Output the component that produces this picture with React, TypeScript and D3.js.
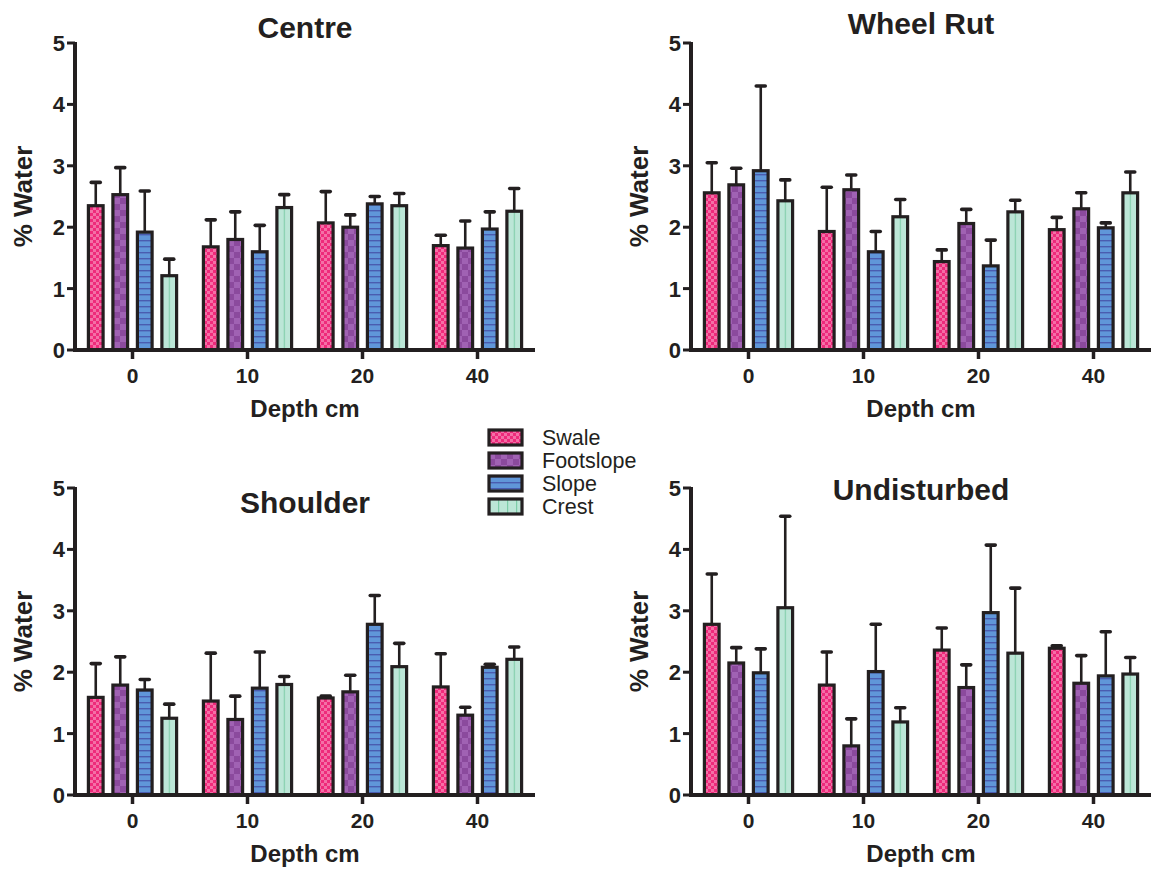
import React from "react";
import * as d3 from "d3";

// depth groups and site positions
const depths = ["0", "10", "20", "40"];
const sites = ["Swale", "Footslope", "Slope", "Crest"];
const yTicks = [0, 1, 2, 3, 4, 5];

// mean % water, one row per site, one column per depth
const centreMean = [
  [2.35, 1.68, 2.07, 1.7],
  [2.53, 1.8, 2.0, 1.66],
  [1.92, 1.6, 2.38, 1.97],
  [1.21, 2.32, 2.35, 2.26],
];
const centreErr = [
  [0.38, 0.44, 0.51, 0.17],
  [0.44, 0.45, 0.2, 0.44],
  [0.67, 0.43, 0.12, 0.28],
  [0.27, 0.21, 0.2, 0.37],
];

const rutMean = [
  [2.56, 1.93, 1.44, 1.96],
  [2.69, 2.61, 2.06, 2.3],
  [2.92, 1.6, 1.37, 1.99],
  [2.43, 2.17, 2.25, 2.56],
];
const rutErr = [
  [0.49, 0.72, 0.19, 0.2],
  [0.27, 0.24, 0.23, 0.26],
  [1.38, 0.33, 0.42, 0.08],
  [0.34, 0.28, 0.19, 0.34],
];

const shoulderMean = [
  [1.59, 1.53, 1.58, 1.76],
  [1.79, 1.23, 1.68, 1.3],
  [1.71, 1.74, 2.78, 2.08],
  [1.25, 1.8, 2.09, 2.21],
];
const shoulderErr = [
  [0.55, 0.78, 0.03, 0.54],
  [0.46, 0.38, 0.27, 0.13],
  [0.17, 0.59, 0.47, 0.05],
  [0.23, 0.13, 0.38, 0.2],
];

const undisturbedMean = [
  [2.78, 1.79, 2.36, 2.39],
  [2.15, 0.8, 1.75, 1.82],
  [1.99, 2.01, 2.97, 1.94],
  [3.05, 1.19, 2.31, 1.97],
];
const undisturbedErr = [
  [0.82, 0.54, 0.36, 0.04],
  [0.25, 0.44, 0.37, 0.45],
  [0.39, 0.77, 1.1, 0.72],
  [1.49, 0.23, 1.06, 0.27],
];

const INK = "#231f20";
const FONT = "Arial, 'Liberation Sans', Helvetica, sans-serif";
const barFill = ["url(#pSwale)", "url(#pFoot)", "url(#pSlope)", "url(#pCrestBar)"];
const legendFill = ["url(#pSwale)", "url(#pFoot)", "url(#pSlope)", "url(#pCrest)"];

const PW = 460; // plot width
const PH = 307; // plot height

const Panel = ({ title, means, errs, left, bottom, titleY }) => {
  const x = d3.scaleBand().domain(depths).range([left, left + PW]);
  const inner = d3
    .scaleBand()
    .domain(sites)
    .range([-49, 49])
    .paddingInner(0.4)
    .paddingOuter(0.2);
  const y = d3.scaleLinear().domain([0, 5]).range([bottom, bottom - PH]);
  const cx = (d) => x(d) + x.bandwidth() / 2;

  return (
    <g>
      <text
        x={left + PW / 2}
        y={titleY}
        textAnchor="middle"
        fontSize={30}
        fontWeight="bold"
        fill={INK}
      >
        {title}
      </text>

      {sites.map((s, si) =>
        depths.map((d, di) => {
          const v = means[si][di];
          const e = errs[si][di];
          const bx = cx(d) + inner(s);
          const mid = bx + inner.bandwidth() / 2;
          return (
            <g key={s + d}>
              <line x1={mid} x2={mid} y1={y(v)} y2={y(v + e)} stroke={INK} strokeWidth={2.6} />
              <line
                x1={mid - 4.5}
                x2={mid + 4.5}
                y1={y(v + e)}
                y2={y(v + e)}
                stroke={INK}
                strokeWidth={3.6}
                strokeLinecap="round"
              />
              <rect
                x={bx}
                y={y(v)}
                width={inner.bandwidth()}
                height={y(0) - y(v)}
                fill={barFill[si]}
                stroke={INK}
                strokeWidth={3.2}
              />
            </g>
          );
        })
      )}

      {/* y axis */}
      <line x1={left} x2={left} y1={y(5) - 1} y2={y(0) + 2} stroke={INK} strokeWidth={4} />
      {yTicks.map((t) => (
        <g key={t}>
          <line x1={left - 8} x2={left} y1={y(t)} y2={y(t)} stroke={INK} strokeWidth={3} />
          <text
            x={left - 10}
            y={y(t) + 8}
            textAnchor="end"
            fontSize={22}
            fontWeight="bold"
            fill={INK}
          >
            {t}
          </text>
        </g>
      ))}
      <text
        transform={`translate(${left - 43},${bottom - PH / 2}) rotate(-90)`}
        textAnchor="middle"
        fontSize={26}
        fontWeight="bold"
        fill={INK}
      >
        % Water
      </text>

      {/* x axis */}
      <line x1={left - 2} x2={left + PW} y1={y(0)} y2={y(0)} stroke={INK} strokeWidth={4} />
      {depths.map((d) => (
        <g key={d}>
          <line x1={cx(d)} x2={cx(d)} y1={y(0)} y2={y(0) + 9} stroke={INK} strokeWidth={3.5} />
          <text
            x={cx(d)}
            y={y(0) + 33}
            textAnchor="middle"
            fontSize={21}
            fontWeight="bold"
            fill={INK}
          >
            {d}
          </text>
        </g>
      ))}
      <text
        x={left + PW / 2}
        y={bottom + 67}
        textAnchor="middle"
        fontSize={24}
        fontWeight="bold"
        fill={INK}
      >
        Depth cm
      </text>
    </g>
  );
};

const Legend = ({ left, top }) => (
  <g>
    {sites.map((s, i) => (
      <g key={s} transform={`translate(${left},${top + i * 23})`}>
        <rect x={0} y={0} width={33} height={15} fill={legendFill[i]} stroke={INK} strokeWidth={3.2} />
        <text x={53} y={15} fontSize={21.5} fill={INK}>
          {s}
        </text>
      </g>
    ))}
  </g>
);

export default function App() {
  return (
    <svg
      width={1157}
      height={870}
      style={{ position: "absolute", left: 0, top: 0, background: "#fff" }}
      fontFamily={FONT}
    >
      <defs>
        <pattern id="pSwale" width={6} height={6} patternUnits="userSpaceOnUse">
          <rect width={6} height={6} fill="#ee2a7b" />
          <rect x={0} y={0} width={3} height={3} fill="#f46fa6" />
          <rect x={3} y={3} width={3} height={3} fill="#f46fa6" />
        </pattern>
        <pattern id="pFoot" width={12} height={12} patternUnits="userSpaceOnUse">
          <rect width={12} height={12} fill="#8b4a9d" />
          <rect x={0} y={0} width={6} height={6} fill="#a062b3" />
          <rect x={6} y={6} width={6} height={6} fill="#a062b3" />
        </pattern>
        <pattern id="pSlope" width={6} height={6} patternUnits="userSpaceOnUse">
          <rect width={6} height={6} fill="#6096d9" />
          <rect x={0} y={0} width={6} height={1.4} fill="#4a5cb0" />
        </pattern>
        <pattern
          id="pCrestBar"
          width={1}
          height={1}
          patternUnits="objectBoundingBox"
          patternContentUnits="objectBoundingBox"
        >
          <rect width={1} height={1} fill="#bce6d7" />
          <rect x={0.47} y={0} width={0.07} height={1} fill="#7dcca8" />
        </pattern>
        <pattern id="pCrest" width={9} height={9} patternUnits="userSpaceOnUse">
          <rect width={9} height={9} fill="#bce6d7" />
          <rect x={0} y={0} width={1.2} height={9} fill="#7dcca8" />
        </pattern>
      </defs>

      <Panel title="Centre" means={centreMean} errs={centreErr} left={75} bottom={350} titleY={38} />
      <Panel title="Wheel Rut" means={rutMean} errs={rutErr} left={691} bottom={350} titleY={34} />
      <Panel title="Shoulder" means={shoulderMean} errs={shoulderErr} left={75} bottom={795} titleY={513} />
      <Panel
        title="Undisturbed"
        means={undisturbedMean}
        errs={undisturbedErr}
        left={691}
        bottom={795}
        titleY={500}
      />
      <Legend left={489} top={430} />
    </svg>
  );
}
